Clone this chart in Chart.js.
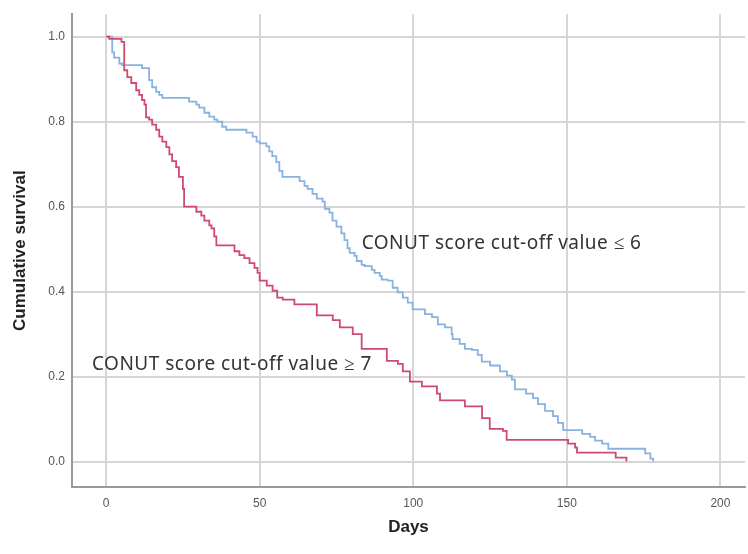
<!DOCTYPE html>
<html>
<head>
<meta charset="utf-8">
<script src="https://cdn.jsdelivr.net/npm/chart.js@4.4.1/dist/chart.umd.min.js"></script>
<style>
  body { margin: 0; background: #fff; }
  #wrap { width: 748px; height: 554px; }
</style>
</head>
<body>
<div id="wrap"><canvas id="kmChart" width="748" height="554"></canvas></div>
<script>
// Kaplan-Meier curves (days, cumulative survival)
const lowDays = [0, 2.0, 2.6, 4.3, 5.2, 11.7, 14.0, 15.0, 16.3, 17.3, 18.3, 27.0, 29.4, 30.3, 32.0, 33.6, 35.2, 36.2, 37.8, 39.1,
  45.7, 47.7, 49.0, 50.0, 52.2, 53.1, 54.1, 55.4, 56.4, 57.4, 63.0, 64.6, 65.6, 67.2, 68.6, 70.5, 71.2, 72.7, 73.7, 75.0,
  76.6, 77.6, 78.6, 79.3, 80.9, 81.6, 83.2, 84.2, 86.5, 87.4, 89.1, 89.7, 91.7, 93.3, 94.9, 96.6, 98.2, 99.8, 103.8, 106.1,
  108.0, 110.3, 112.5, 112.8, 115.1, 116.8, 119.1, 121.0, 122.3, 125.0, 128.2, 130.5, 132.1, 133.1, 136.7, 139.0, 140.6, 142.9, 145.5, 147.1,
  148.8, 155.0, 157.6, 159.2, 161.5, 163.5, 175.5, 177.2, 178.1];
const lowSurv = [1.0, 0.963, 0.951, 0.937, 0.933, 0.926, 0.898, 0.881, 0.87, 0.863, 0.856, 0.847, 0.84, 0.833, 0.821, 0.812, 0.805, 0.8, 0.788, 0.781,
  0.774, 0.765, 0.753, 0.749, 0.742, 0.73, 0.719, 0.705, 0.684, 0.67, 0.66, 0.649, 0.642, 0.63, 0.619, 0.612, 0.595, 0.586, 0.567, 0.553,
  0.537, 0.521, 0.502, 0.491, 0.484, 0.472, 0.463, 0.46, 0.451, 0.444, 0.437, 0.428, 0.426, 0.409, 0.398, 0.386, 0.374, 0.358, 0.347, 0.34,
  0.323, 0.316, 0.3, 0.288, 0.277, 0.265, 0.263, 0.251, 0.235, 0.226, 0.212, 0.202, 0.193, 0.17, 0.16, 0.149, 0.135, 0.119, 0.107, 0.091,
  0.074, 0.065, 0.058, 0.049, 0.042, 0.03, 0.019, 0.007, 0.0];

const highDays = [0, 1.0, 5.0, 5.9, 6.9, 8.2, 9.8, 10.8, 11.7, 12.5, 13.0, 14.0, 15.0, 16.3, 17.3, 18.3, 19.6, 20.6, 21.5, 22.8,
  23.7, 25.0, 25.4, 29.4, 31.0, 32.0, 33.6, 34.3, 35.2, 35.9, 41.8, 43.4, 45.0, 46.7, 48.3, 49.3, 50.0, 52.3, 54.2, 55.7,
  57.5, 61.3, 68.6, 73.8, 76.1, 80.3, 83.2, 91.4, 95.0, 96.6, 98.9, 102.8, 107.7, 108.7, 116.8, 122.4, 124.9, 129.2, 130.4, 150.4,
  152.7, 153.3, 165.9, 169.4];
const highSurv = [1.0, 0.995, 0.988, 0.921, 0.905, 0.891, 0.874, 0.863, 0.851, 0.84, 0.81, 0.805, 0.793, 0.781, 0.765, 0.753, 0.74, 0.723, 0.707, 0.693,
  0.67, 0.642, 0.6, 0.588, 0.579, 0.567, 0.556, 0.549, 0.53, 0.509, 0.495, 0.486, 0.479, 0.467, 0.456, 0.444, 0.426, 0.414, 0.402, 0.386,
  0.381, 0.37, 0.344, 0.333, 0.316, 0.3, 0.265, 0.237, 0.23, 0.212, 0.188, 0.177, 0.16, 0.144, 0.13, 0.102, 0.077, 0.072, 0.051, 0.042,
  0.033, 0.021, 0.009, 0.0];

const xTicks = [0, 50, 100, 150, 200];
const yTicks = [0.0, 0.2, 0.4, 0.6, 0.8, 1.0];

// in-plot group labels, anchored in data units (left edge, vertical middle)
const noteText = ["CONUT score cut-off value \u2264 6", "CONUT score cut-off value \u2265 7"];
const noteX = [83.2, -4.6];
const noteY = [0.514, 0.228];

const toPoints = (xs, ys) => xs.map((x, i) => ({ x: x, y: ys[i] }));

// draws the two group labels inside the plot
const notePlugin = {
  id: "notes",
  afterDatasetsDraw(chart) {
    const { ctx, scales } = chart;
    ctx.save();
    ctx.font = "19px 'Noto Sans'";
    ctx.letterSpacing = "0.5px";
    ctx.fillStyle = "#333";
    ctx.textBaseline = "middle";
    ctx.textAlign = "left";
    noteText.forEach((t, i) => {
      ctx.fillText(t, scales.x.getPixelForValue(noteX[i]), scales.y.getPixelForValue(noteY[i]));
    });
    ctx.restore();
  }
};

const gridStyle = { color: "#d6d6d6", lineWidth: 2, drawTicks: false };
const borderStyle = { color: "#9a9a9a", width: 2 };
const tickFont = { family: "'Liberation Sans', Arial", size: 12 };
const titleFont = { family: "'Liberation Sans', Arial", size: 17, weight: "bold" };

new Chart(document.getElementById("kmChart"), {
  type: "line",
  data: {
    datasets: [
      {
        label: "CONUT >= 7",
        data: toPoints(highDays, highSurv),
        borderColor: "#d0496f",
        borderWidth: 1.8,
        stepped: true,
        pointRadius: 0,
        fill: false
      },
      {
        label: "CONUT <= 6",
        data: toPoints(lowDays, lowSurv),
        borderColor: "#88b2df",
        borderWidth: 1.8,
        stepped: true,
        pointRadius: 0,
        fill: false
      }
    ]
  },
  options: {
    responsive: false,
    animation: false,
    layout: { padding: { top: 7, right: 3, left: 0, bottom: 0 } },
    plugins: { legend: { display: false }, tooltip: { enabled: false } },
    scales: {
      x: {
        type: "linear",
        min: -11.1,
        max: 208,
        afterBuildTicks: (s) => { s.ticks = xTicks.map(v => ({ value: v })); },
        afterFit: (s) => { s.height = 67; },
        ticks: { font: tickFont, color: "#555", padding: 9, callback: (v) => String(v) },
        grid: gridStyle,
        border: borderStyle,
        title: { display: true, text: "Days", font: titleFont, color: "#222", padding: { top: 0, bottom: 16 } }
      },
      y: {
        type: "linear",
        min: -0.06,
        max: 1.053,
        afterBuildTicks: (s) => { s.ticks = yTicks.map(v => ({ value: v })); },
        afterFit: (s) => { s.width = 72; },
        ticks: { font: tickFont, color: "#555", padding: 7, callback: (v) => v.toFixed(1) },
        grid: gridStyle,
        border: borderStyle,
        title: { display: true, text: "Cumulative survival", font: titleFont, color: "#222", padding: { top: 10, bottom: 0 } }
      }
    }
  },
  plugins: [notePlugin]
});
</script>
</body>
</html>
